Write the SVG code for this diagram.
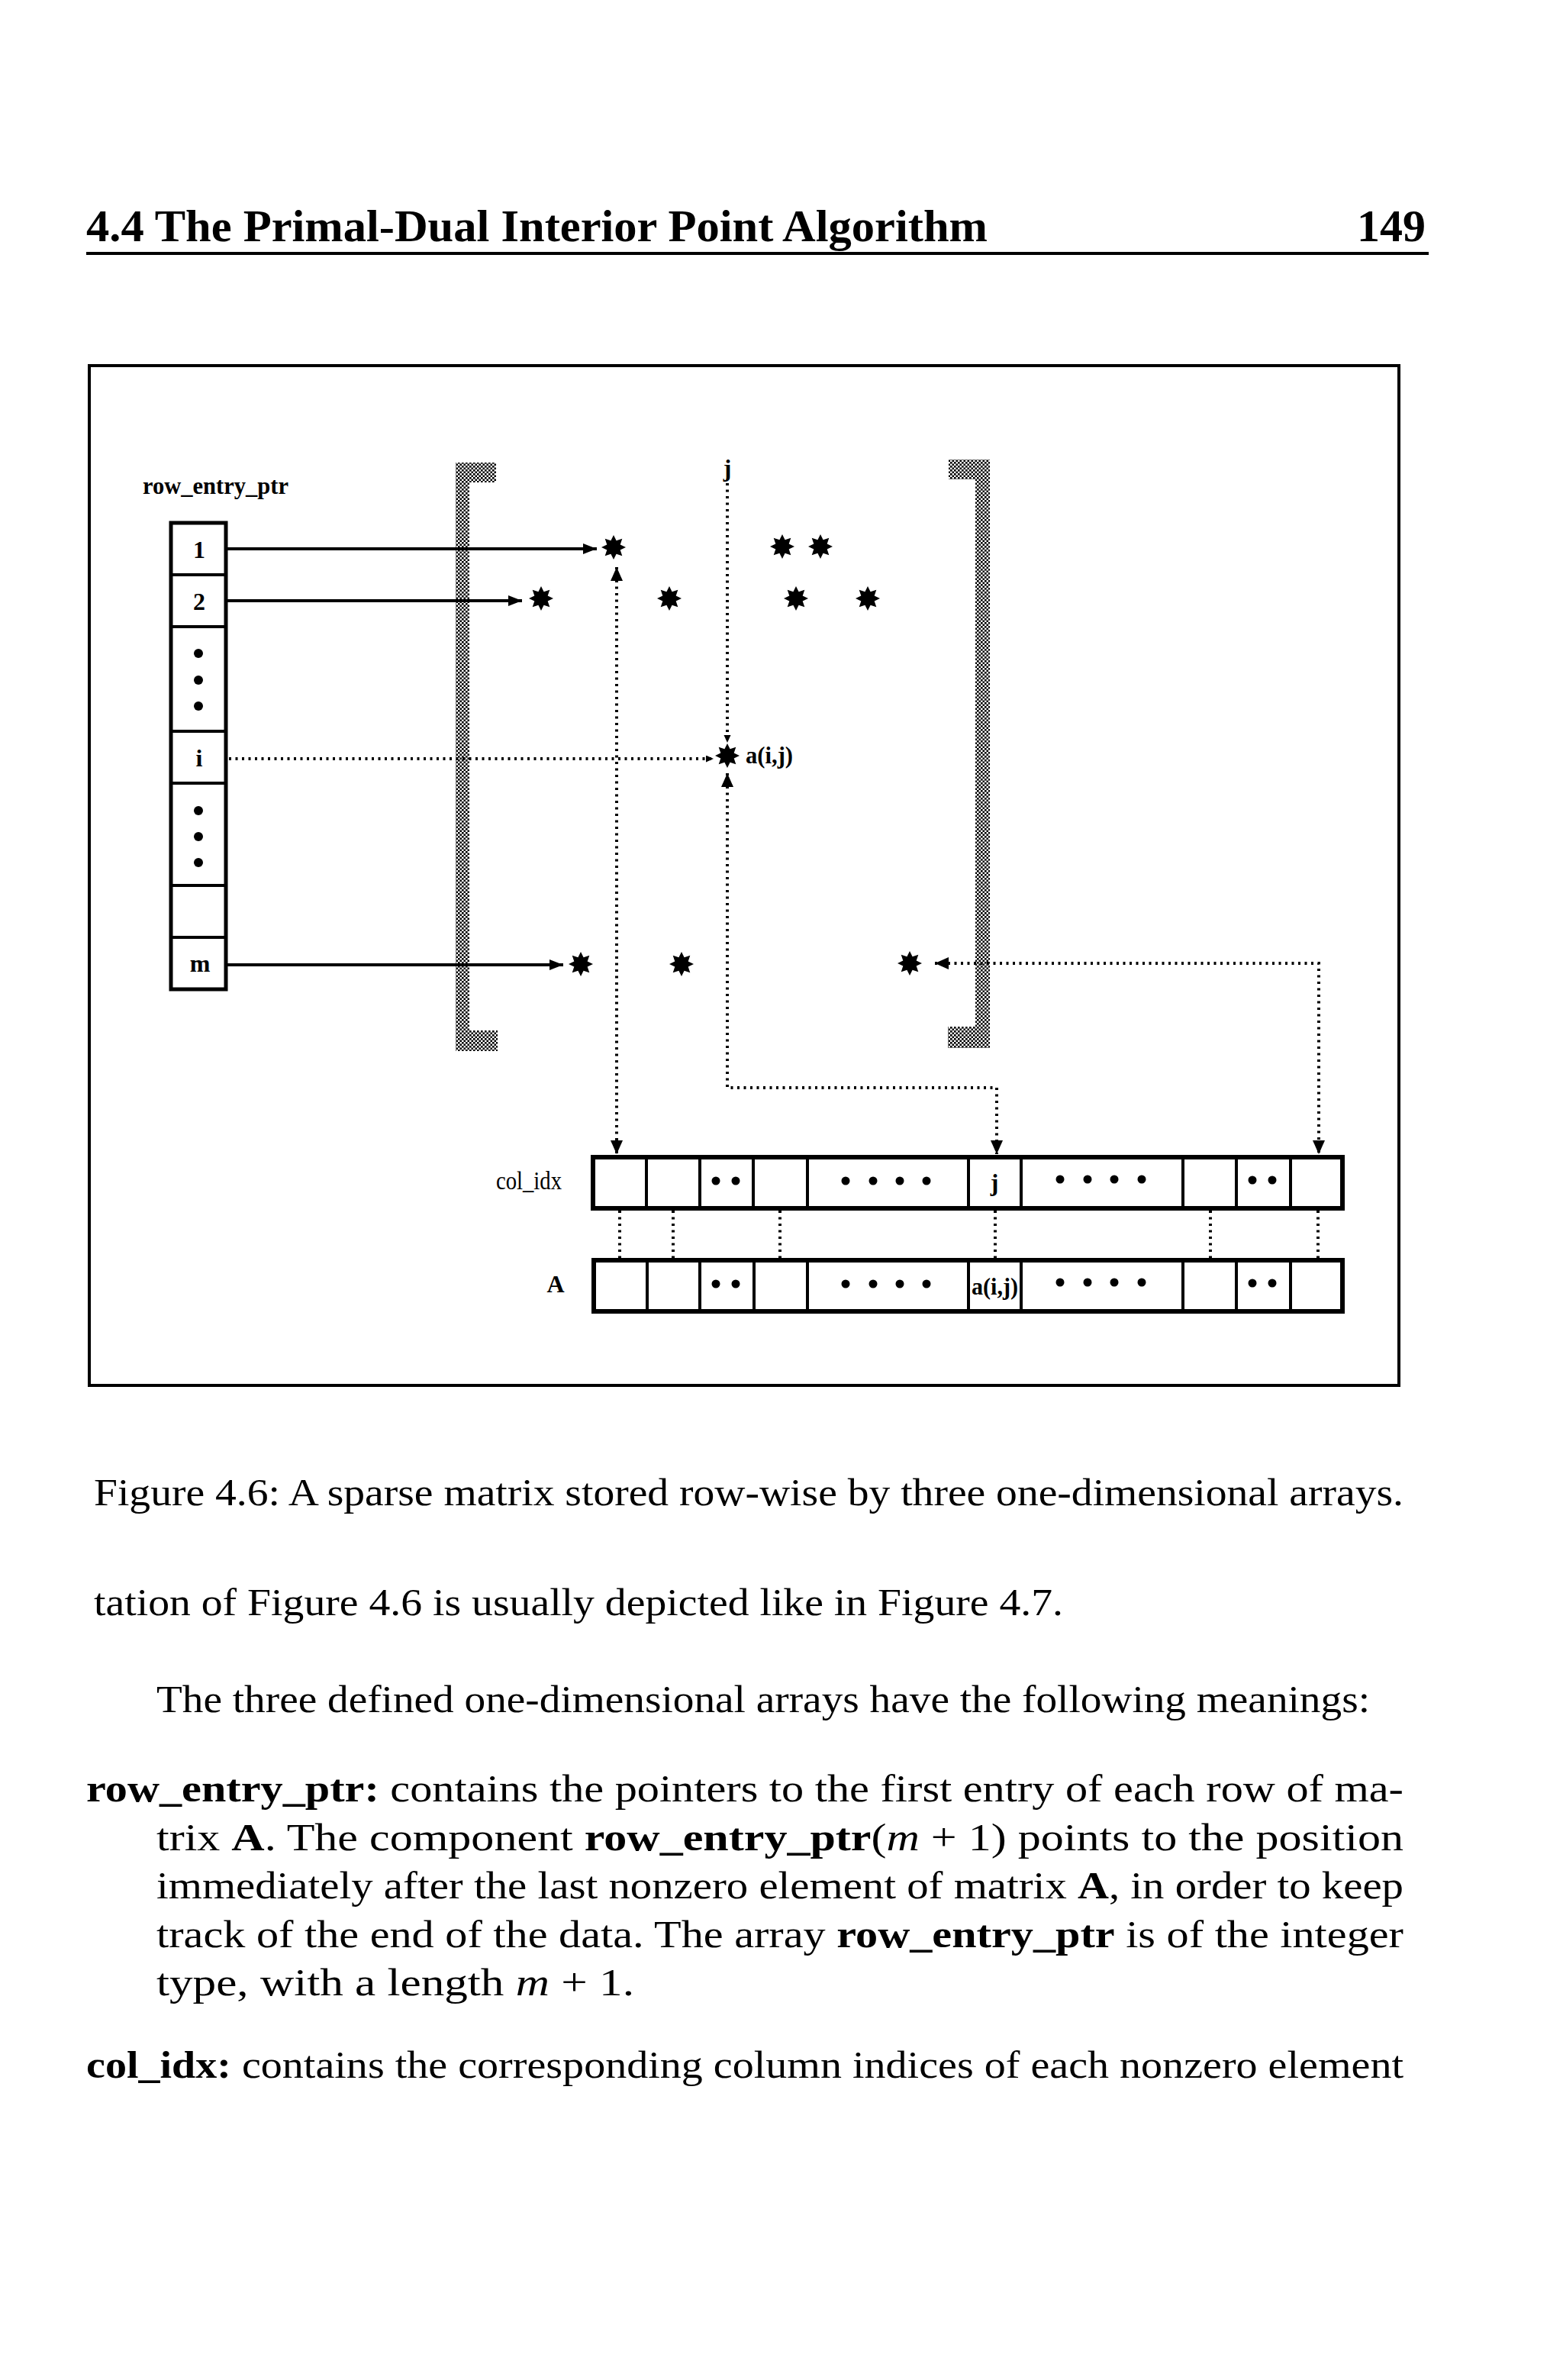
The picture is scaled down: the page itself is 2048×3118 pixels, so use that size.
<svg xmlns="http://www.w3.org/2000/svg" width="2048" height="3118" viewBox="0 0 2048 3118">
<style>
.hdr{font-family:"Liberation Serif",serif;font-weight:bold;font-size:60px;fill:#000}
.body{font-family:"Liberation Serif",serif;font-size:51px;fill:#000}
.b{font-weight:bold}
.it{font-style:italic}
.lbl{font-family:"Liberation Serif",serif;font-weight:bold;font-size:32px;fill:#000}
.lbln{font-family:"Liberation Serif",serif;font-size:33px;fill:#000}
.solid{stroke:#000;stroke-width:4;fill:none}
.dotted{stroke:#000;stroke-width:4;stroke-dasharray:3 5.5;fill:none}
.cell{fill:none;stroke:#000;stroke-width:4}
.frame{fill:none;stroke:#000;stroke-width:4}
.outer{fill:none;stroke:#000;stroke-width:6}
.hatch{fill:url(#hatch)}
</style>
<defs>
<pattern id="hatch" width="5" height="5" patternUnits="userSpaceOnUse">
<rect width="5" height="5" fill="#fff"/>
<rect x="0" y="0" width="2.6" height="2.6" fill="#000"/>
<rect x="2.5" y="2.5" width="2.6" height="2.6" fill="#000"/>
</pattern>
<polygon id="star" points="0,-16 3.6,-8.7 11.3,-11.3 8.7,-3.6 16,0 8.7,3.6 11.3,11.3 3.6,8.7 0,16 -3.6,8.7 -11.3,11.3 -8.7,3.6 -16,0 -8.7,-3.6 -11.3,-11.3 -3.6,-8.7" fill="#000"/>
<marker id="arr" markerUnits="userSpaceOnUse" markerWidth="20" markerHeight="16" refX="18" refY="7" orient="auto-start-reverse"><path d="M0,0 L18,7 L0,14 z" fill="#000"/></marker>
<marker id="arrd" markerUnits="userSpaceOnUse" markerWidth="20" markerHeight="18" refX="18" refY="8" orient="auto-start-reverse"><path d="M0,0 L18,8 L0,16 z" fill="#000"/></marker>
<marker id="arrs" markerUnits="userSpaceOnUse" markerWidth="12" markerHeight="10" refX="10" refY="4.5" orient="auto-start-reverse"><path d="M0,0 L10,4.5 L0,9 z" fill="#000"/></marker>
</defs>
<rect width="2048" height="3118" fill="#fff"/>

<g id="page-header">
<text class="hdr" x="113" y="316" textLength="1181" lengthAdjust="spacingAndGlyphs">4.4 The Primal-Dual Interior Point Algorithm</text>
<text class="hdr" x="1868" y="316" text-anchor="end">149</text>
<line x1="113" y1="332" x2="1872" y2="332" stroke="#000" stroke-width="4"/>
</g>

<g id="figure-frame">
<rect class="frame" x="117" y="479" width="1716" height="1336"/>
</g>

<g id="matrix-brackets">
<path class="hatch" d="M597,606 H650 V632 H615 V1350 H652 V1377 H597 Z"/>
<path class="hatch" d="M1243,602 H1297 V1373 H1242 V1345 H1278 V628 H1243 Z"/>
</g>

<g id="row_entry_ptr">
<text class="lbl" x="187" y="647" font-size="31" textLength="191" lengthAdjust="spacingAndGlyphs">row_entry_ptr</text>
<rect x="224" y="685" width="72" height="611" fill="#fff" stroke="#000" stroke-width="5"/>
<line class="cell" x1="224" y1="753" x2="296" y2="753"/>
<line class="cell" x1="224" y1="821" x2="296" y2="821"/>
<line class="cell" x1="224" y1="958" x2="296" y2="958"/>
<line class="cell" x1="224" y1="1026" x2="296" y2="1026"/>
<line class="cell" x1="224" y1="1160" x2="296" y2="1160"/>
<line class="cell" x1="224" y1="1228" x2="296" y2="1228"/>
<text class="lbl" x="261" y="731" text-anchor="middle">1</text>
<text class="lbl" x="261" y="799" text-anchor="middle">2</text>
<circle cx="260" cy="856" r="6"/><circle cx="260" cy="891" r="6"/><circle cx="260" cy="925" r="6"/>
<text class="lbl" x="261" y="1004" text-anchor="middle">i</text>
<circle cx="260" cy="1062" r="6"/><circle cx="260" cy="1096" r="6"/><circle cx="260" cy="1130" r="6"/>
<text class="lbl" x="262" y="1273" text-anchor="middle">m</text>
</g>

<g id="nonzeros">
<use href="#star" x="804" y="717"/>
<use href="#star" x="1025" y="716"/>
<use href="#star" x="1075" y="716"/>
<use href="#star" x="709" y="784"/>
<use href="#star" x="877" y="784"/>
<use href="#star" x="1043" y="784"/>
<use href="#star" x="1137" y="784"/>
<use href="#star" x="953" y="990"/>
<use href="#star" x="761" y="1263"/>
<use href="#star" x="893" y="1263"/>
<use href="#star" x="1192" y="1262"/>
<text class="lbl" x="953" y="624" text-anchor="middle">j</text>
<text class="lbl" x="977" y="1000" textLength="62" lengthAdjust="spacingAndGlyphs">a(i,j)</text>
</g>

<g id="col_idx">
<text class="lbln" x="650" y="1558" textLength="86" lengthAdjust="spacingAndGlyphs">col_idx</text>
<rect class="outer" x="777" y="1516" width="982" height="67" fill="#fff"/>
<line class="cell" x1="847" y1="1516" x2="847" y2="1583"/>
<line class="cell" x1="917" y1="1516" x2="917" y2="1583"/>
<line class="cell" x1="987" y1="1516" x2="987" y2="1583"/>
<line class="cell" x1="1058" y1="1516" x2="1058" y2="1583"/>
<line class="cell" x1="1269" y1="1516" x2="1269" y2="1583"/>
<line class="cell" x1="1338" y1="1516" x2="1338" y2="1583"/>
<line class="cell" x1="1550" y1="1516" x2="1550" y2="1583"/>
<line class="cell" x1="1620" y1="1516" x2="1620" y2="1583"/>
<line class="cell" x1="1691" y1="1516" x2="1691" y2="1583"/>
<circle cx="938" cy="1547" r="5.5"/><circle cx="964" cy="1547" r="5.5"/>
<circle cx="1108" cy="1547" r="5.5"/><circle cx="1144" cy="1547" r="5.5"/><circle cx="1179" cy="1547" r="5.5"/><circle cx="1214" cy="1547" r="5.5"/>
<text class="lbl" x="1303" y="1560" text-anchor="middle">j</text>
<circle cx="1389" cy="1545" r="5.5"/><circle cx="1425" cy="1545" r="5.5"/><circle cx="1460" cy="1545" r="5.5"/><circle cx="1496" cy="1545" r="5.5"/>
<circle cx="1641" cy="1546" r="5.5"/><circle cx="1667" cy="1546" r="5.5"/>
</g>

<g id="A">
<text class="lbl" x="728" y="1693" text-anchor="middle" font-size="33">A</text>
<rect class="outer" x="778" y="1651" width="981" height="67" fill="#fff"/>
<line class="cell" x1="848" y1="1651" x2="848" y2="1718"/>
<line class="cell" x1="917" y1="1651" x2="917" y2="1718"/>
<line class="cell" x1="988" y1="1651" x2="988" y2="1718"/>
<line class="cell" x1="1058" y1="1651" x2="1058" y2="1718"/>
<line class="cell" x1="1269" y1="1651" x2="1269" y2="1718"/>
<line class="cell" x1="1338" y1="1651" x2="1338" y2="1718"/>
<line class="cell" x1="1550" y1="1651" x2="1550" y2="1718"/>
<line class="cell" x1="1620" y1="1651" x2="1620" y2="1718"/>
<line class="cell" x1="1691" y1="1651" x2="1691" y2="1718"/>
<circle cx="938" cy="1682" r="5.5"/><circle cx="964" cy="1682" r="5.5"/>
<circle cx="1108" cy="1682" r="5.5"/><circle cx="1144" cy="1682" r="5.5"/><circle cx="1179" cy="1682" r="5.5"/><circle cx="1214" cy="1682" r="5.5"/>
<text class="lbl" x="1273" y="1696" textLength="61" lengthAdjust="spacingAndGlyphs">a(i,j)</text>
<circle cx="1389" cy="1680" r="5.5"/><circle cx="1425" cy="1680" r="5.5"/><circle cx="1460" cy="1680" r="5.5"/><circle cx="1496" cy="1680" r="5.5"/>
<circle cx="1641" cy="1681" r="5.5"/><circle cx="1667" cy="1681" r="5.5"/>
</g>

<g id="connectors">
<line class="solid" x1="298" y1="719" x2="782" y2="719" marker-end="url(#arr)"/>
<line class="solid" x1="298" y1="787" x2="684" y2="787" marker-end="url(#arr)"/>
<line class="solid" x1="298" y1="1264" x2="738" y2="1264" marker-end="url(#arr)"/>
<line class="dotted" x1="300" y1="994" x2="935" y2="994" marker-end="url(#arrs)"/>
<line class="dotted" x1="953" y1="633" x2="953" y2="973" marker-end="url(#arrs)"/>
<line class="dotted" x1="808" y1="743" x2="808" y2="1512" marker-start="url(#arrd)" marker-end="url(#arrd)"/>
<polyline class="dotted" points="953,1013 953,1425 1306,1425 1306,1512" marker-start="url(#arrd)" marker-end="url(#arrd)"/>
<polyline class="dotted" points="1225,1262 1728,1262 1728,1512" marker-start="url(#arrd)" marker-end="url(#arrd)"/>
<line class="dotted" x1="812" y1="1586" x2="812" y2="1648"/>
<line class="dotted" x1="882" y1="1586" x2="882" y2="1648"/>
<line class="dotted" x1="1022" y1="1586" x2="1022" y2="1648"/>
<line class="dotted" x1="1304" y1="1586" x2="1304" y2="1648"/>
<line class="dotted" x1="1586" y1="1586" x2="1586" y2="1648"/>
<line class="dotted" x1="1727" y1="1586" x2="1727" y2="1648"/>
</g>

<g id="caption">
<text class="body" x="123" y="1972" textLength="1716" lengthAdjust="spacingAndGlyphs">Figure 4.6: A sparse matrix stored row-wise by three one-dimensional arrays.</text>
</g>

<g id="body-text">
<text class="body" x="123" y="2116" textLength="1270" lengthAdjust="spacingAndGlyphs">tation of Figure 4.6 is usually depicted like in Figure 4.7.</text>
<text class="body" x="205" y="2243" textLength="1590" lengthAdjust="spacingAndGlyphs">The three defined one-dimensional arrays have the following meanings:</text>
<text class="body" x="113" y="2360" textLength="1726" lengthAdjust="spacingAndGlyphs"><tspan class="b">row_entry_ptr:</tspan> contains the pointers to the first entry of each row of ma-</text>
<text class="body" x="205" y="2424" textLength="1634" lengthAdjust="spacingAndGlyphs">trix <tspan class="b">A</tspan>. The component <tspan class="b">row_entry_ptr</tspan>(<tspan class="it">m</tspan> + 1) points to the position</text>
<text class="body" x="205" y="2487" textLength="1634" lengthAdjust="spacingAndGlyphs">immediately after the last nonzero element of matrix <tspan class="b">A</tspan>, in order to keep</text>
<text class="body" x="205" y="2551" textLength="1634" lengthAdjust="spacingAndGlyphs">track of the end of the data. The array <tspan class="b">row_entry_ptr</tspan> is of the integer</text>
<text class="body" x="205" y="2614" textLength="626" lengthAdjust="spacingAndGlyphs">type, with a length <tspan class="it">m</tspan> + 1.</text>
<text class="body" x="113" y="2722" textLength="1726" lengthAdjust="spacingAndGlyphs"><tspan class="b">col_idx:</tspan> contains the corresponding column indices of each nonzero element</text>
</g>
</svg>
